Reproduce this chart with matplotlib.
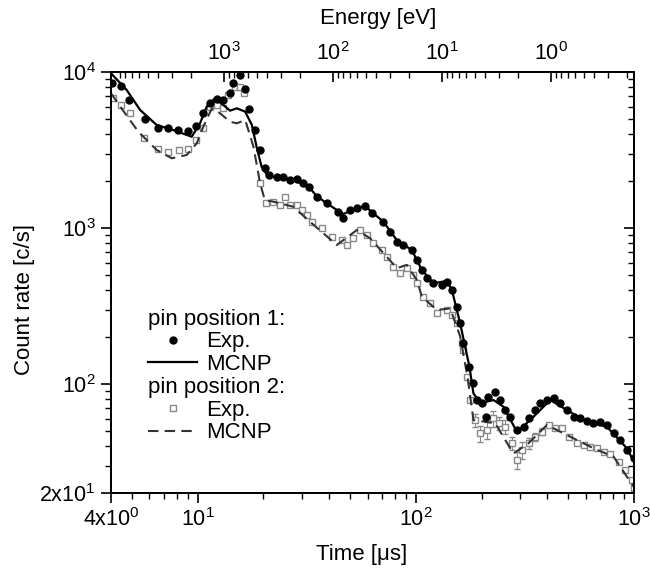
import matplotlib
matplotlib.use("Agg")
import matplotlib.pyplot as plt
from matplotlib.lines import Line2D
from matplotlib.ticker import FixedLocator, FixedFormatter, LogLocator, NullFormatter
import numpy as np

plt.rcParams['font.family'] = ['Liberation Sans', 'DejaVu Sans']
plt.rcParams['mathtext.fontset'] = 'custom'
plt.rcParams['mathtext.rm'] = 'Liberation Sans'
plt.rcParams['mathtext.it'] = 'Liberation Sans:italic'
plt.rcParams['mathtext.bf'] = 'Liberation Sans:bold'

# ---------------- data ----------------
# pin position 1, experiment
t_exp1 = [4.03, 4.44, 4.85, 5.73, 6.55, 7.32, 8.14, 8.99, 9.82, 10.6, 11.38, 12.2, 13.1, 14.06,
          14.56, 15.6, 16.5, 17.2, 18.3, 19.3, 20.3, 21.1, 23.0, 24.7, 26.5, 28.4, 30.5, 32.2,
          35.1, 39.0, 44.1, 46.5, 50.0, 53.6, 58.5, 62.8, 71.0, 76.2, 81.8, 87.7, 95.8, 101,
          106.5, 112.2, 120.3, 131.5, 138.7, 146.2, 154.1, 159.5, 165.2, 176, 183.6, 190.4,
          200.5, 210, 215.2, 230.9, 243.7, 256.9, 270.5, 290.4, 311.6, 328.5, 352.4, 371.6,
          398.7, 427.6, 458.8, 492.3, 528, 566.9, 608.4, 652, 700, 751, 806, 865, 928, 995]
c_exp1 = [8540, 8130, 6615, 4977, 4355, 4355, 4246, 4205, 4510, 5486, 6298, 6680, 6615, 7363,
          8540, 9567, 7745, 5770, 4246, 3162, 2416, 2188, 2133, 2133, 2031, 2050, 1934, 1841,
          1587, 1439, 1272, 1153, 1305, 1337, 1384, 1242, 1097, 946, 817, 778, 722, 624,
          538, 476, 442, 431, 453, 401, 313, 245, 182, 129, 101, 78.9,
          75.2, 61.7, 83.0, 89.3, 78.9, 68.1, 61.7, 50.7, 53.2, 60.3, 68.1, 75.2,
          78.9, 80.9, 75.2, 68.1, 61.7, 60.3, 58.2, 56.5, 57.3, 54.6, 48.3, 43.8, 37.8, 33.4]

# pin position 1, MCNP
t_mcnp1 = [4.0, 4.72, 5.44, 6.48, 7.72, 9.38, 10.24, 10.99, 12.0, 13.1, 14.06, 15.1, 16.5, 17.7,
           18.6, 19.6, 21.1, 23.0, 27.4, 32.2, 35.1, 39.0, 44.1, 46.5, 53.6, 58.5, 62.8, 71.0,
           81.8, 95.8, 106.5, 120.3, 138.7, 146.2, 159.5, 176, 183.6, 197, 226.8, 252, 290.4,
           334, 413, 492, 608, 751, 928, 1000]
c_mcnp1 = [9810, 7670, 5706, 4572, 4246, 3845, 4689, 5995, 6779, 6141, 5651, 5850, 5566, 4572,
           3320, 2472, 2133, 2117, 2031, 1841, 1600, 1440, 1285, 1230, 1340, 1384, 1265, 1097,
           835, 722, 538, 442, 458, 401, 245, 129, 87.1, 75.2, 78.9, 71.5, 49.4,
           58.7, 78.9, 68.1, 57.3, 53.2, 38.7, 31.6]

# pin position 2, experiment
t_exp2 = [4.07, 4.43, 4.89, 5.67, 6.55, 7.32, 8.2, 8.99, 9.82, 10.6, 11.38, 12.2, 13.1, 13.8,
          14.8, 15.6, 16.35, 19.3, 20.6, 22.2, 23.8, 25.1, 26.5, 28.4, 30.0, 31.6, 33.3, 37.0,
          41.2, 45.7, 48.2, 51.7, 55.5, 59.6, 63.9, 69.8, 73.6, 78.9, 84.7, 90.9, 97.4, 101,
          108.3, 116.2, 124.8, 138.7, 146.2, 154.1, 162.4, 165.2, 172.4, 177.4, 186.9, 197,
          211.5, 226.8, 239.2, 256.9, 275.6, 290.4, 306.3, 328.5, 352.4, 378.5, 405.6, 435,
          467, 501, 547.6, 587, 630, 676, 725, 778, 850, 912, 979, 1000]
c_exp2 = [6779, 6141, 5433, 3794, 3196, 3084, 3162, 3206, 3664, 4355, 5995, 6141, 5850, 7124,
          8050, 8050, 7300, 1934, 1439, 1475, 1402, 1587, 1402, 1402, 1305, 1211, 1097, 995,
          879, 838, 778, 859, 970, 901, 798, 722, 655, 565, 513, 553, 500, 442,
          363, 329, 284, 298, 276, 245, 182, 165, 111, 78.9, 58.7, 48.3,
          50.7, 60.3, 56.0, 53.2, 41.7, 32.6, 37.8, 41.7, 45.9, 49.4, 54.6, 52.0,
          52.0, 45.9, 41.7, 40.6, 39.6, 38.7, 36.8, 35.6, 31.8, 28.1, 24.3, 21.4]
# relative error bars on pin position 2 experiment
rel_err2 = [0.0] * 52 + [0.10, 0.12, 0.12, 0.12, 0.10, 0.10, 0.10, 0.12, 0.12, 0.08, 0.06, 0.05,
                          0.0, 0.0, 0.0, 0.0, 0.0, 0.0, 0.0, 0.0, 0.0, 0.0, 0.0, 0.0, 0.0, 0.0]

# pin position 2, MCNP
t_mcnp2 = [4.0, 4.64, 5.34, 6.48, 7.60, 8.90, 9.89, 10.6, 11.6, 12.65, 14.06, 15.1, 16.5, 18.0,
           19.3, 20.3, 22.2, 27.4, 32.7, 43.4, 53.6, 61.7, 81.8, 90.9, 101, 106.5, 124.8, 143.6,
           159.5, 172.4, 183.6, 230.9, 280, 328.5, 398.7, 492, 652, 806, 995]
c_mcnp2 = [7300, 5433, 4140, 3162, 2799, 2939, 3491, 4459, 5850, 5433, 4800, 4689, 4920, 3320,
           1934, 1510, 1475, 1369, 1097, 778, 970, 859, 553, 580, 464, 363, 298, 305,
           202, 111, 58.7, 56.0, 35.8, 41.7, 54.6, 47.1, 38.7, 34.2, 22.0]

x_ticks = [4, 10, 100, 1000]
x_ticklabels = [r'$4\mathrm{x}10^{0}$', r'$10^{1}$', r'$10^{2}$', r'$10^{3}$']
y_ticks = [20, 100, 1000, 10000]
y_ticklabels = [r'$2\mathrm{x}10^{1}$', r'$10^{2}$', r'$10^{3}$', r'$10^{4}$']
e_ticks = [1000, 100, 10, 1]
e_ticklabels = [r'$10^{3}$', r'$10^{2}$', r'$10^{1}$', r'$10^{0}$']
E_CONST = 1.73e5  # E[eV] = E_CONST / t[us]^2

# ---------------- figure ----------------
fig = plt.figure(figsize=(6.5, 5.74), dpi=100)
ax = fig.add_axes([111/650, 1 - 493/574, 523/650, 421/574])
ax.set_xscale('log')
ax.set_yscale('log')
ax.set_xlim(4, 1000)
ax.set_ylim(20, 10000)

fs = 16
tfs = 15.5
t_exp2 = np.array(t_exp2); c_exp2 = np.array(c_exp2); rel_err2 = np.array(rel_err2)
ax.errorbar(t_exp2, c_exp2, yerr=c_exp2 * rel_err2, fmt='s', ms=5, mfc='white', mec='#888888',
            mew=1.0, ecolor='#888888', elinewidth=0.8, capsize=2, zorder=2)
ax.plot(t_mcnp2, c_mcnp2, linestyle=(0, (5, 3)), color='#333333', lw=1.5, zorder=3)
ax.plot(t_exp1, c_exp1, 'o', ms=5, color='black', zorder=4)
ax.plot(t_mcnp1, c_mcnp1, '-', color='black', lw=1.6, zorder=5)

for s in ax.spines.values():
    s.set_linewidth(1.2)

ax.xaxis.set_major_locator(FixedLocator(x_ticks))
ax.xaxis.set_major_formatter(FixedFormatter(x_ticklabels))
ax.xaxis.set_minor_locator(LogLocator(base=10, subs=np.arange(2, 10), numticks=20))
ax.xaxis.set_minor_formatter(NullFormatter())
ax.yaxis.set_major_locator(FixedLocator(y_ticks))
ax.yaxis.set_major_formatter(FixedFormatter(y_ticklabels))
ax.yaxis.set_minor_locator(LogLocator(base=10, subs=np.arange(2, 10), numticks=20))
ax.yaxis.set_minor_formatter(NullFormatter())

ax.tick_params(which='major', direction='out', length=7, width=1.2, labelsize=tfs, pad=4)
ax.tick_params(which='minor', direction='out', length=4, width=1.0)
ax.tick_params(axis='y', which='both', right=False)
axr = ax.twinx()
axr.set_yscale('log')
axr.set_ylim(ax.get_ylim())
axr.yaxis.set_major_locator(FixedLocator(y_ticks))
axr.yaxis.set_minor_locator(LogLocator(base=10, subs=np.arange(2, 10), numticks=20))
axr.yaxis.set_major_formatter(NullFormatter())
axr.yaxis.set_minor_formatter(NullFormatter())
axr.tick_params(which='major', direction='in', length=7, width=1.2)
axr.tick_params(which='minor', direction='in', length=4, width=1.0)

# top energy axis
axt = ax.twiny()
axt.set_xscale('log')
axt.set_xlim(E_CONST / 4**2, E_CONST / 1000**2)
axt.xaxis.set_major_locator(FixedLocator(e_ticks))
axt.xaxis.set_major_formatter(FixedFormatter(e_ticklabels))
axt.xaxis.set_minor_locator(LogLocator(base=10, subs=np.arange(2, 10), numticks=20))
axt.xaxis.set_minor_formatter(NullFormatter())
axt.tick_params(which='major', direction='in', length=7, width=1.2, labelsize=tfs, pad=5)
axt.tick_params(which='minor', direction='in', length=4, width=1.0)
for a in (axr, axt):
    for s in a.spines.values():
        s.set_linewidth(1.2)

ax.set_xlabel('Time [μs]', fontsize=fs)
ax.set_ylabel('Count rate [c/s]', fontsize=fs)
axt.set_xlabel('Energy [eV]', fontsize=fs)
ax.xaxis.set_label_coords(0.48, -0.122)
ax.yaxis.set_label_coords(-0.145, 0.46)
axt.xaxis.set_label_coords(0.51, 1.115)

# legend
blank = Line2D([], [], linestyle='none', marker=None)
h = [blank,
     Line2D([], [], linestyle='none', marker='o', ms=5, color='black'),
     Line2D([], [], color='black', lw=1.6),
     blank,
     Line2D([], [], linestyle='none', marker='s', ms=5, mfc='white', mec='#888888'),
     Line2D([], [], linestyle=(0, (5, 3)), color='#333333', lw=1.5)]
labels = ['pin position 1:', 'Exp.', 'MCNP', 'pin position 2:', 'Exp.', 'MCNP']
leg = ax.legend(h, labels, loc='upper left', bbox_to_anchor=(0.071, 0.438), frameon=False,
                fontsize=fs, handlelength=2.2, handletextpad=0.4, labelspacing=0.08,
                borderaxespad=0, borderpad=0)
hp = leg._legend_handle_box.get_children()[0].get_children()
for i in (0, 3):
    hp[i].get_children()[0].set_width(0)
    hp[i].sep = 0

fig.savefig('out.png', dpi=100)
